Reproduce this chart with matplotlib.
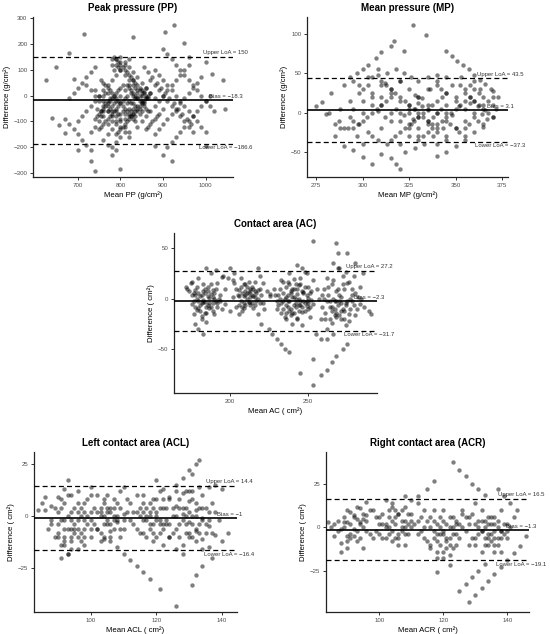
import matplotlib
matplotlib.use("Agg")
import matplotlib.pyplot as plt
import matplotlib.transforms as mtransforms

plt.rcParams['font.family'] = ['Liberation Sans', 'DejaVu Sans']

# ---------------- data (mean, difference) ----------------
pp_points = [
    (625, 60), (650, 110), (715, 240), (680, 165), (690, 65), (640, -85), (655, -115),
    (670, -145), (700, -210), (730, -255), (740, -290), (800, -285), (830, 228), (905, 245),
    (925, 272), (950, 205), (960, 150), (1000, 130), (1015, 85), (1040, 60), (1045, -50),
    (1000, -195), (920, -255), (900, -230), (880, -195),
    (780, 140), (790, 120), (800, 100), (810, 80), (820, 60), (830, 40), (840, 20), (850, 0),
    (800, 150), (810, 130), (820, 110), (830, 90), (840, 70), (850, 50), (860, 30), (870, 10), (880, -10),
    (740, 20), (750, 0), (760, -20), (770, -40), (780, -60), (790, -80), (800, -100), (810, -120), (820, -140),
    (720, 40), (730, 20), (740, 0), (750, -20), (760, -40), (770, -60), (780, -80), (790, -100), (800, -120),
    (810, -140), (820, -160),
    (760, -170), (770, -150), (780, -130), (790, -110), (800, -90), (810, -70), (820, -50), (830, -30),
    (840, -10), (850, 10), (860, 30),
    (730, -140), (740, -120), (750, -100), (760, -80), (770, -60), (780, -40), (790, -20), (800, 0),
    (810, 20), (820, 40), (830, 60),
    (700, -100), (710, -80), (720, -60), (730, -40), (740, -20), (750, 0), (760, 20), (770, 40), (780, 60),
    (790, 80), (800, 100), (810, 120), (820, 140),
    (680, -10), (690, 10), (700, 30), (710, 50), (720, 70), (730, 90), (740, 110),
    (880, 100), (890, 80), (900, 60), (910, 40), (920, 20), (930, 0), (940, -20), (950, -40), (960, -60),
    (970, -80), (980, -100), (990, -120), (1000, -140),
    (900, 180), (910, 160), (920, 140), (930, 120), (940, 100), (950, 80), (960, 60), (970, 40), (980, 20),
    (990, 0), (1000, -20), (1010, -40), (1020, -60),
    (880, -150), (890, -130), (900, -110), (910, -90), (920, -70), (930, -50), (940, -30), (950, -10),
    (960, 10), (970, 30), (980, 50), (990, 70),
    (910, -200), (920, -180), (930, -160), (940, -140), (950, -120), (960, -100), (970, -80), (980, -60),
    (990, -40), (1000, -20), (1010, 0),
    (860, -130), (870, -110), (880, -90), (890, -70), (900, -50), (865, -120), (875, -100), (885, -80),
    (670, -90), (680, -110), (690, -130), (700, -150), (710, -170), (720, -190), (730, -210),
    (780, -200), (790, -180), (800, -160), (770, -190), (780, -230), (790, -210),
    (780, 120), (790, 140), (800, 130), (785, 100), (795, 110),
    (825, -30), (835, -10), (845, 0), (830, -50), (840, -40), (850, -20), (855, -30), (820, -80),
    (830, -70), (840, -60), (845, 20), (835, 30), (825, 10), (815, 0), (855, 15), (860, -10),
    (755, -60), (765, -30), (775, -10), (765, 10), (755, -80), (745, -50),
    (785, 150), (790, 140), (795, 130), (800, 120), (805, 110), (810, 100), (815, 90), (820, 80),
    (825, 70), (830, 60), (835, 50), (840, 40), (845, 30), (850, 20), (855, 10), (860, 0), (865, -10),
    (755, 60), (760, 50), (765, 40), (770, 30), (775, 20), (780, 10), (785, 0), (790, -10), (795, -20),
    (800, -30), (805, -40), (810, -50), (815, -60), (820, -70), (825, -80), (830, -90), (835, -100),
    (815, 40), (820, 30), (825, 20), (830, 10), (835, 0), (840, -10), (845, -20), (850, -30),
    (855, -40), (860, -50), (865, -60),
    (790, -150), (795, -140), (800, -130), (805, -120), (810, -110), (815, -100), (820, -90),
    (825, -80), (830, -70), (835, -60), (840, -50), (845, -40), (850, -30), (855, -20), (860, -10),
    (865, 0), (870, 10),
    (740, -90), (745, -80), (750, -70), (755, -60), (760, -50), (765, -40), (770, -30), (775, -20),
    (780, -10), (785, 0), (790, 10), (795, 20), (800, 30), (805, 40),
    (750, -130), (755, -120), (760, -110), (765, -100), (770, -90), (775, -80), (780, -70),
    (785, -60), (790, -50), (795, -40), (800, -30), (805, -20),
    (870, 60), (880, 40), (890, 20), (900, 0), (910, -20), (920, -40), (930, -60), (940, -80),
    (950, -100), (960, -120), (970, -140),
    (855, 110), (865, 90), (875, 70), (885, 50), (895, 30), (905, 10), (915, -10), (925, -30),
    (935, -50), (945, -70), (955, -90), (965, -110),
    (840, -120), (850, -100), (860, -80), (870, -60), (880, -40), (890, -20), (900, 0), (910, 20),
    (920, 40), (930, 60), (940, 80), (950, 100), (960, 120),
    (760, 0), (770, 10), (770, -20), (760, -60), (775, -50), (785, -30), (795, -70), (805, -60),
    (815, -30), (810, -10), (835, -40), (845, -50), (850, -60), (840, 10), (830, 0), (820, -20),
    (825, -60), (835, -80), (845, -70), (810, -90), (800, -70), (790, -60), (780, -100), (770, -110),
]

mp_points = [
    (275, 8), (278, 13), (280, -2), (283, 25), (285, -15), (290, 35), (293, 45), (297, 50), (300, 55),
    (303, 60), (307, 70), (310, 77), (315, 85), (317, 91), (322, 78), (327, 112), (334, 99),
    (320, -72), (315, -58), (318, -65), (305, -65), (300, -57), (295, -48), (290, -42), (310, -52),
    (340, -55), (345, -50), (350, -42), (355, -35), (360, -25), (365, -18), (370, -5), (372, 5),
    (370, 27), (373, 20),
    (345, 78), (348, 72), (351, 66), (354, 60), (357, 55), (360, 48), (363, 42), (366, 36), (369, 30),
    (295, 40), (300, 30), (305, 20), (310, 10), (315, 0), (320, -10), (325, -20), (330, -30),
    (305, 45), (310, 35), (315, 25), (320, 15), (325, 5), (330, -5), (335, -15), (340, -25), (345, -35),
    (320, 40), (325, 30), (330, 20), (335, 10), (340, 0), (345, -10), (350, -20), (355, -30),
    (335, 45), (340, 35), (345, 25), (350, 15), (355, 5), (360, -5), (365, -15),
    (285, -30), (290, -20), (295, -10), (300, 0), (305, 10), (310, 20), (315, 30), (320, 40),
    (300, -40), (305, -30), (310, -20), (315, -10), (320, 0), (325, 10), (330, 20), (335, 30), (340, 40),
    (320, -40), (325, -30), (330, -20), (335, -10), (340, 0), (345, 10), (350, 20), (355, 30), (360, 40),
    (340, -40), (345, -30), (350, -20), (355, -10), (360, 0), (365, 10), (370, 20),
    (282, 0), (287, -10), (292, -20), (297, -30),
    (288, 5), (293, 15), (298, 25), (303, 35), (308, 48), (312, 38),
    (325, 0), (328, 5), (332, 8), (327, -8), (322, -3), (318, 5), (330, 12), (335, 3), (338, -5),
    (342, 5), (362, 8), (366, 3), (358, 12), (364, -2), (360, 15), (328, 22), (332, 18), (326, -15),
    (312, -5), (308, 2), (352, 8), (348, -3),
    (310, 40), (312.5, 35), (315, 30), (317.5, 25), (320, 20), (322.5, 15), (325, 10), (327.5, 5),
    (330, 0), (332.5, -5), (335, -10), (337.5, -15), (340, -20),
    (315, -35), (317.5, -30), (320, -25), (322.5, -20), (325, -15), (327.5, -10), (330, -5),
    (332.5, 0), (335, 5), (337.5, 10), (340, 15), (342.5, 20), (345, 25),
    (330, -35), (332.5, -30), (335, -25), (337.5, -20), (340, -15), (342.5, -10), (345, -5),
    (347.5, 0), (350, 5), (352.5, 10), (355, 15), (357.5, 20),
    (295, -20), (297.5, -15), (300, -10), (302.5, -5), (305, 0), (307.5, 5), (310, 10), (312.5, 15), (315, 20),
    (352.5, 35), (355, 25), (357.5, 20), (360, 15), (362.5, 10), (365, 5), (367.5, 0), (370, -5),
    (360, 30), (362.5, 25), (365, 20), (367.5, 15), (370, 10),
    (345, 0), (347, -15), (352, -25), (357, -15), (362, -10), (367, -8), (355, -20), (343, -20),
    (338, -30), (333, -40), (328, -45), (323, -50), (313, -40), (308, -35), (303, -25), (298, -15),
    (293, -5), (288, -20), (295, 5), (300, 15), (305, 25), (298, 35), (303, 45), (308, 55), (313, 50),
    (318, 55), (322, 50), (326, 45), (330, 40), (336, 30), (342, 30), (348, 35), (353, 45), (358, 35),
    (363, 30), (345, 45), (340, 48),
]

ac_points = [
    (175, 15), (178, 9), (181, 3), (184, -3), (187, -9), (190, -15),
    (180, 20), (183, 14), (186, 8), (189, 2), (192, -4), (195, -10),
    (176, -5), (179, -11), (182, -17), (185, -23),
    (177, -15), (180, -9), (183, -3), (186, 3), (189, 9), (192, 15), (195, 21),
    (182, -20), (185, -14), (188, -8), (191, -2), (194, 4), (197, 10),
    (173, 10), (176, 16), (172, 12), (174, 8), (185, 30), (188, 25), (191, 28), (196, 22),
    (180, -30), (183, -35), (178, -25),
    (203, 15), (206, 9), (209, 3), (212, -3), (215, -9), (218, -15),
    (207, 20), (210, 14), (213, 8), (216, 2), (219, -4), (222, -10),
    (204, -8), (207, -2), (210, 4), (213, 10), (216, 16), (219, 22),
    (206, -15), (209, -9), (212, -3), (215, 3), (218, 9), (221, 15),
    (200, 30), (203, 25), (199, 20), (224, 8), (226, 3), (197, -5), (200, -12), (202, 18), (218, 30),
    (228, 10), (231, 4), (234, -2), (237, -8), (240, -14), (243, -20), (246, -26),
    (233, 18), (236, 12), (239, 6), (242, 0), (245, -6), (248, -12), (251, -18),
    (238, 25), (241, 19), (244, 13), (247, 7), (250, 1), (253, -5),
    (230, -10), (233, -4), (236, 2), (239, 8), (242, 14), (245, 20), (248, 26),
    (235, -18), (238, -12), (241, -6), (244, 0), (247, 6), (250, 12), (253, 18),
    (240, -25), (243, -19), (246, -13), (249, -7), (252, -1),
    (243, 33), (246, 30), (249, 25), (226, 5), (230, -2),
    (256, 10), (259, 4), (262, -2), (265, -8), (268, -14), (271, -20), (274, -26),
    (262, 20), (265, 14), (268, 8), (271, 2), (274, -4), (277, -10), (280, -16),
    (258, -20), (261, -14), (264, -8), (267, -2), (270, 4), (273, 10), (276, 16), (279, 22),
    (262, -30), (265, -24), (268, -18), (271, -12), (274, -6), (277, 0), (280, 6), (283, 12),
    (266, 35), (269, 30), (272, 22), (275, 15), (278, 10), (283, -5), (286, -8), (289, -12), (269, 45),
    (255, -35), (258, -40), (262, -40), (266, -35),
    (253, 57), (268, 55), (275, 45), (280, 35), (285, 25), (290, -15), (253, -60), (245, -73),
    (253, -85), (258, -75), (262, -70), (265, -63), (268, -57), (272, -50), (275, -45),
    (233, -45), (235, -50), (238, -53), (230, -40), (227, -35), (225, -30), (220, -25),
    (181, -6), (183, -1), (184, 6), (186, -6), (187, 1), (188, 5), (189, -4), (185, -8), (182, 4),
    (190, 0), (184, 10), (179, 0), (178, 4), (177, -2),
    (209, -4), (210, 8), (211, 0), (212, 6), (213, -6), (214, 4), (214, 12), (211, 12), (208, 6),
    (216, 8), (217, -2), (208, -8), (206, 3),
    (232, 0), (234, 6), (236, -6), (237, 4), (238, -2), (239, -10), (240, 2), (241, 10), (242, -8),
    (243, 5), (244, -12), (245, -2), (246, 8), (234, -10), (236, -14), (238, 14), (248, -4), (249, 4),
    (250, -10), (251, 6),
    (260, 0), (263, 4), (266, 0), (269, -6), (272, -10), (270, -2), (267, -16), (273, -20), (264, -20),
    (276, -15), (278, -2),
    (176, 4), (178, -8), (180, 6), (181, -12), (183, 8), (184, -14), (186, 12), (187, -4), (188, 14),
    (189, -12), (190, 6), (191, 10), (192, -8), (193, 0), (194, -2), (179, 12), (177, 6), (182, -4),
    (180, -2),
    (205, 4), (206, -6), (207, 12), (208, -12), (209, 14), (210, -6), (211, 6), (212, 16), (213, 2),
    (214, -4), (215, 10), (216, -6), (217, 6), (218, 0), (219, 10), (220, 4), (221, -4), (204, 10),
    (202, 2),
    (229, 4), (231, -6), (232, 10), (233, -14), (234, 16), (235, 0), (236, -20), (237, 16), (239, -16),
    (240, 10), (241, -14), (242, -4), (243, 10), (244, -6), (245, 14), (246, -8), (247, -2), (248, 12),
    (249, -2), (250, -4), (251, -8), (252, 8), (237, -2), (241, 2),
    (257, 0), (259, -8), (260, 10), (261, -20), (263, 12), (264, -2), (265, -12), (266, 18), (267, -10),
    (268, -2), (269, 10), (270, -16), (271, -4), (272, 14), (273, -12), (275, -2), (276, -22), (278, 4),
    (279, -6), (281, -10), (282, 2), (284, 0), (274, 26), (270, 30),
]

acl_points = [
    (86, 3), (88, 5), (90, 9), (92, 13), (93, 17),
    (88, -4), (90, -8), (92, -12), (94, -16),
    (87, -6), (89, -10), (91, -14), (93, -18),
    (90, 2), (92, -2), (94, -6), (96, -10), (98, -14),
    (92, 6), (94, 2), (96, -2), (98, -6), (100, -10),
    (94, 10), (96, 6), (98, 2), (100, -2), (102, -6),
    (90, -10), (92, -6), (94, -2), (96, 2), (98, 6), (100, 10),
    (92, -14), (94, -10), (96, -6), (98, -2), (100, 2),
    (100, 14), (102, 10), (104, 6), (106, 2), (108, -2), (110, -6),
    (101, -4), (103, 0), (105, 4), (107, 8), (109, 12), (110, 14),
    (102, -6), (104, -10), (106, -12),
    (103, -8), (105, -4), (107, 0), (109, 4), (111, 8),
    (104, -11), (106, -7), (108, -3), (110, 1),
    (103, 2), (105, -2), (107, -6), (109, -10),
    (112, 6), (114, 2), (116, -2), (118, -6), (120, -10), (122, -14),
    (114, 10), (116, 6), (118, 2), (120, -2), (122, -6), (124, -10),
    (113, -4), (115, 0), (117, 4), (119, 8), (121, 12),
    (116, -8), (118, -4), (120, 0), (122, 4), (124, 8), (126, 12),
    (119, -12), (121, -8), (123, -4), (125, 0),
    (120, 17), (122, 13), (124, 9), (126, 5), (128, 1), (130, -3), (132, -7), (134, -11), (136, -15),
    (126, 15), (128, 11), (130, 7), (132, 3), (134, -1), (136, -5), (138, -9),
    (124, -10), (126, -6), (128, -2), (130, 2), (132, 6), (134, 10), (136, 14),
    (128, -14), (130, -10), (132, -6), (134, -2), (136, 2),
    (128, 18), (130, 22), (132, 25), (131, 20),
    (121, -35), (126, -43), (131, -33), (133, 27), (118, -30), (116, -27), (114, -24), (112, -21),
    (110, -18), (108, -15), (138, 15), (140, 13), (142, -8), (140, -12), (137, -20), (134, -24),
    (132, -28), (84, 3), (85, 6), (86, 9), (91, -20), (93, -18), (96, -16),
    (93, 0), (95, -4), (97, -8), (95, 4), (97, 0), (99, -4), (91, -2), (93, -6), (95, -8), (97, 4),
    (99, 0), (91, 4),
    (104, 0), (106, -4), (105, 2), (107, -2), (103, 4), (104, -4), (106, 4), (108, 0),
    (117, -2), (118, 0), (119, -4), (120, 2), (121, -2), (122, -4), (117, 0), (115, 4), (119, 4),
    (121, 4), (123, -2), (116, 2),
    (127, 4), (129, 0), (131, -4), (129, 4), (131, 0), (133, 4), (127, -4), (129, -8), (131, 8),
    (133, -4), (135, -8), (135, 4), (131, 12), (129, 12), (133, 14),
    (88, -2), (89, 4), (90, -4), (91, 8), (92, -10), (93, 10), (94, -12), (95, -6), (96, 12), (97, -12),
    (98, -10), (99, 8), (100, -6), (101, 4), (102, 2), (103, -12), (104, 8), (105, 10), (106, -10),
    (107, 4), (108, 6), (109, -6), (110, -2), (111, 2), (112, -2), (113, 2), (114, -6), (115, -8),
    (116, 10), (117, -10), (118, 6), (119, -8), (120, 8), (121, -4), (122, 8), (123, 4), (124, -4),
    (125, 4), (125, -8), (126, 0), (127, 8), (127, -10), (128, 4), (129, -4), (130, -8), (131, -10),
    (132, 0), (133, -8), (134, 4), (135, -4), (136, -2), (137, -8), (138, 2), (137, 6), (139, -2),
    (134, -16), (132, -12), (130, 12), (128, -18), (126, -16),
]

acr_points = [
    (86, -5), (88, -1), (90, 3), (92, 7), (94, 11), (96, 15),
    (88, -9), (90, -5), (92, -1), (94, 3), (96, 7),
    (87, 4), (89, 0), (91, -4), (93, -8), (95, -12),
    (90, 10), (92, 6), (94, 2), (96, -2), (98, -6),
    (85, 0), (84, 3), (88, -14), (90, -12),
    (98, 10), (100, 6), (102, 2), (104, -2), (106, -6), (108, -10),
    (102, 16), (104, 12), (106, 8), (108, 4), (110, 0), (112, -4),
    (100, -4), (102, 0), (104, 4), (106, 8), (108, 12), (110, 16),
    (104, -8), (106, -4), (108, 0), (110, 4),
    (112, 14), (114, 10), (116, 6), (118, 2), (120, -2), (122, -6), (124, -10),
    (114, -6), (116, -10), (118, -14), (120, -18), (122, -22), (118, -26),
    (116, -12), (118, -8), (120, -4), (122, 0), (124, 4), (126, 8),
    (118, -18), (120, -14), (122, -10),
    (120, 10), (122, 6), (124, 2),
    (126, 10), (128, 6), (130, 2), (132, -2), (134, -6), (136, -10),
    (130, 14), (132, 10), (134, 6), (136, 2), (138, -2), (140, -6),
    (128, -10), (130, -6), (132, -2), (134, 2), (136, 6), (138, 10),
    (132, -14), (134, -10), (136, -6), (138, -2), (140, 2), (142, 6),
    (123, 38), (125, 33), (127, 30), (129, 25), (131, 22), (133, 19),
    (128, -43), (130, -39), (132, -35), (134, -31), (136, -27), (138, -23), (140, -19), (142, -15),
    (144, -11), (146, -5),
    (125, -37), (127, -33), (129, -29), (131, -25), (133, -21),
    (137, 22), (139, 18), (141, 14), (143, 10),
    (117, 27), (115, 22), (112, 18), (108, 18),
    (91, 2), (93, 5), (95, 0), (89, 3), (93, -2), (95, 5), (91, -6),
    (103, 0), (105, 2), (107, 4), (105, 6), (107, -2), (109, 2), (103, 6), (101, 2),
    (119, 0), (121, -6), (121, 2), (119, -4), (123, -4), (117, -2), (119, -10), (121, -12),
    (123, -12), (117, 4),
    (131, -4), (133, 0), (135, -4), (137, 0), (133, -6), (135, -8), (137, -6), (135, 2), (133, 4),
    (139, -4), (131, 4),
    (86, 2), (87, -2), (89, 6), (90, -8), (91, 9), (92, -5), (93, 12), (94, -6), (95, 8), (96, 4),
    (97, -4), (97, 10), (99, 6), (99, -2), (100, 2), (101, 8), (101, -6), (102, -6), (103, 10),
    (103, -4), (104, 14), (105, -6), (105, 10), (106, -10), (107, 10), (107, 0), (108, -4), (109, 8),
    (109, -4), (110, 8), (111, 2), (112, 4), (113, -2), (113, 6), (114, 0), (115, 4), (115, -8),
    (116, 0), (117, -6), (117, 10), (118, -4), (119, 6), (120, 4), (121, -8), (122, -16), (123, 0),
    (123, 6), (124, -4), (125, 2), (125, -6), (126, 0), (127, -2), (127, 6), (128, 2), (129, -6),
    (129, 8), (130, -10), (131, 0), (132, 4), (133, -10), (134, -4), (135, 6), (136, -2), (137, -10),
    (137, 4), (138, -6), (139, 2), (140, -2), (141, 0), (136, -14), (138, -14),
]

titles = ["Peak pressure (PP)", "Mean pressure (MP)", "Contact area (AC)",
          "Left contact area (ACL)", "Right contact area (ACR)"]
xlabels = ["Mean PP (g/cm²)", "Mean MP (g/cm²)", "Mean AC ( cm²)", "Mean ACL ( cm²)", "Mean ACR ( cm²)"]
ylabels = ["Difference (g/cm²)", "Difference (g/cm²)", "Difference ( cm²)",
           "Difference ( cm²)", "Difference ( cm²)"]
bias = [-18.3, 3.1, -2.3, -1, -1.3]
upper = [150, 43.5, 27.2, 14.4, 16.5]
lower = [-186.6, -37.3, -31.7, -16.4, -19.1]
bias_txt = ["−18.3", "3.1", "−2.3", "−1", "−1.3"]
upper_txt = ["150", "43.5", "27.2", "14.4", "16.5"]
lower_txt = ["−186.6", "−37.3", "−31.7", "−16.4", "−19.1"]
xticks = [[700, 800, 900, 1000], [275, 300, 325, 350, 375], [200, 250], [100, 120, 140], [100, 120, 140]]
yticks = [[-300, -200, -100, 0, 100, 200, 300], [-50, 0, 50, 100], [-50, 0, 50], [-25, 0, 25], [-25, 0, 25]]
ytick_txt = [["−300", "−200", "−100", "0", "100", "200", "300"], ["−50", "0", "50", "100"],
             ["−50", "0", "50"], ["−25", "0", "25"], ["−25", "0", "25"]]
xlims = [(595, 1064), (270, 378.2), (164.4, 294), (82.7, 144.6), (83.4, 146.8)]
ylims = [(-315, 304), (-81.8, 121.6), (-93.1, 64.8), (-45.9, 30.6), (-49, 43.7)]
all_points = [pp_points, mp_points, ac_points, acl_points, acr_points]

W, H = 550, 634
# axes boxes in pixels: left, right, top, bottom
boxes = [(33, 233, 17, 177), (307, 508, 17, 177), (174, 377, 233, 393),
         (34, 237, 452, 612), (326, 529, 452, 612)]

fig = plt.figure(figsize=(W / 100, H / 100), dpi=100)
fig.patch.set_facecolor('white')

for i in range(5):
    l, r, t, b = boxes[i]
    ax = fig.add_axes([l / W, 1 - b / H, (r - l) / W, (b - t) / H])
    xs = [p[0] for p in all_points[i]]
    ys = [p[1] for p in all_points[i]]
    trans = mtransforms.blended_transform_factory(ax.transAxes, ax.transData)
    ax.annotate(f"Upper LoA = {upper_txt[i]}", xy=(0.962, upper[i]), xycoords=trans,
                xytext=(0, 3.1), textcoords='offset points', ha='center', va='center',
                fontsize=4.3, color='#333333', zorder=1)
    ax.annotate(f"Bias = {bias_txt[i]}", xy=(0.962, bias[i]), xycoords=trans,
                xytext=(0, 2.4), textcoords='offset points', ha='center', va='center',
                fontsize=4.3, color='#333333', zorder=1)
    ax.annotate(f"Lower LoA = {lower_txt[i]}", xy=(0.962, lower[i]), xycoords=trans,
                xytext=(0, -2.7), textcoords='offset points', ha='center', va='center',
                fontsize=4.3, color='#333333', zorder=1)
    ax.scatter(xs, ys, s=10, c='black', alpha=0.5, linewidths=0, zorder=2)
    ax.axhline(bias[i], color='black', lw=1.2, zorder=3)
    ax.axhline(upper[i], color='black', lw=0.9, ls=(0, (4, 2.5)), zorder=3)
    ax.axhline(lower[i], color='black', lw=0.9, ls=(0, (4, 2.5)), zorder=3)
    ax.set_xlim(*xlims[i])
    ax.set_ylim(*ylims[i])
    ax.set_xticks(xticks[i])
    ax.set_yticks(yticks[i])
    ax.set_yticklabels(ytick_txt[i])
    ax.spines['top'].set_visible(False)
    ax.spines['right'].set_visible(False)
    for s in ('left', 'bottom'):
        ax.spines[s].set_color('#222222')
        ax.spines[s].set_linewidth(0.9)
    ax.tick_params(axis='both', length=2.2, width=0.7, color='#333333',
                   labelsize=4.4, labelcolor='#4d4d4d', pad=1.8)
    ax.set_title(titles[i], fontsize=7, fontweight='bold', pad=4)
    ax.set_xlabel(xlabels[i], fontsize=5.6, labelpad=2.5)
    ax.set_ylabel(ylabels[i], fontsize=5.6, labelpad=2)

fig.savefig("out.png", dpi=100)
